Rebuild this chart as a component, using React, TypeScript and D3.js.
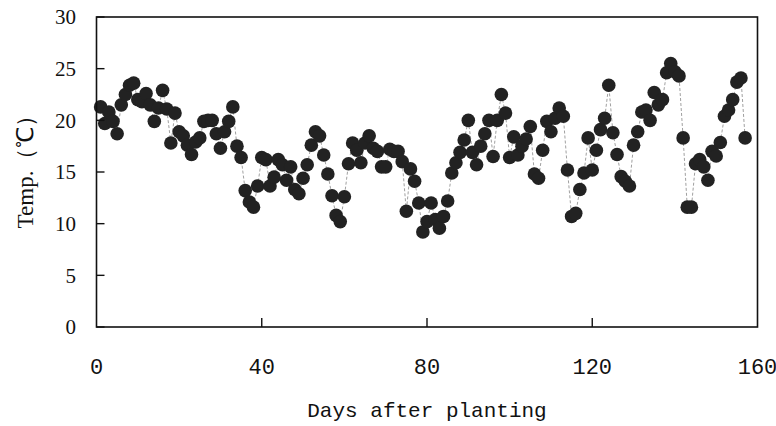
import React from "react";
import * as d3 from "d3";

const temps: number[] = [
  21.3, 19.7, 20.8, 19.9, 18.7, 21.5, 22.5, 23.4, 23.6, 22.0,
  21.8, 22.6, 21.5, 19.9, 21.2, 22.9, 21.1, 17.8, 20.7, 18.9,
  18.5, 17.6, 16.7, 17.9, 18.3, 19.9, 20.0, 20.0, 18.7, 17.3,
  18.9, 19.9, 21.3, 17.5, 16.4, 13.2, 12.1, 11.6, 13.65, 16.4,
  16.2, 13.65, 14.5, 16.2, 15.7, 14.2, 15.5, 13.3, 12.9, 14.4,
  15.7, 17.6, 18.9, 18.5, 16.65, 14.8, 12.7, 10.8, 10.2, 12.6,
  15.8, 17.8, 17.1, 15.9, 17.8, 18.5, 17.3, 17.0, 15.5, 15.5,
  17.2, 17.0, 17.0, 16.0, 11.2, 15.3, 14.1, 12.0, 9.2, 10.2,
  12.0, 10.4, 9.55, 10.7, 12.2, 14.9, 15.9, 16.9, 18.1, 20.0,
  16.9, 15.7, 17.5, 18.7, 20.0, 16.5, 20.0, 22.5, 20.7, 16.4,
  18.4, 16.65, 17.5, 18.2, 19.4, 14.8, 14.4, 17.1, 19.9, 18.9,
  20.2, 21.2, 20.4, 15.2, 10.7, 11.0, 13.3, 14.9, 18.3, 15.2,
  17.1, 19.1, 20.2, 23.4, 18.8, 16.7, 14.55, 14.1, 13.65, 17.6,
  18.9, 20.8, 21.0, 20.0, 22.7, 21.5, 22.0, 24.6, 25.5, 24.7,
  24.3, 18.3, 11.6, 11.6, 15.8, 16.2, 15.5, 14.2, 17.0, 16.55,
  17.85, 20.4, 21.0, 22.0, 23.7, 24.1, 18.3,
];
const days: number[] = temps.map((_, i) => i + 1);
const xTicks: number[] = [0, 40, 80, 120, 160];
const yTicks: number[] = [0, 5, 10, 15, 20, 25, 30];

const W = 776;
const H = 426;
const left = 96.5;
const right = 757.5;
const top = 17;
const bottom = 327;

export default function App() {
  const x = d3.scaleLinear().domain([0, 160]).range([left, right]);
  const y = d3.scaleLinear().domain([0, 30]).range([bottom, top]);
  const data = days.map((d, i) => ({ d, t: temps[i] }));
  const line = d3
    .line<{ d: number; t: number }>()
    .x((p) => x(p.d))
    .y((p) => y(p.t));
  const serif = "'Liberation Serif', 'Times New Roman', serif";
  const mono = "'Liberation Mono', 'DejaVu Sans Mono', monospace";
  return (
    <svg
      width={W}
      height={H}
      style={{ position: "absolute", left: 0, top: 0, background: "#fff" }}
    >
      <rect x={0} y={0} width={W} height={H} fill="#fff" />
      <path
        d={line(data) || ""}
        fill="none"
        stroke="#888"
        strokeWidth={0.8}
        strokeDasharray="3,2"
      />
      {data.map((p, i) => (
        <circle key={i} cx={x(p.d)} cy={y(p.t)} r={6.8} fill="#222" />
      ))}
      <rect
        x={left}
        y={top}
        width={right - left}
        height={bottom - top}
        fill="none"
        stroke="#111"
        strokeWidth={1.6}
      />
      {yTicks.map((t) => (
        <g key={"y" + t}>
          <line x1={left} x2={left + 8} y1={y(t)} y2={y(t)} stroke="#111" strokeWidth={1.4} />
          <text
            x={76}
            y={y(t)}
            dy="0.35em"
            textAnchor="end"
            fontFamily={serif}
            fontSize={21}
            fill="#111"
          >
            {t}
          </text>
        </g>
      ))}
      {xTicks.map((t) => (
        <g key={"x" + t}>
          {t > 0 && t < 160 && (
            <line x1={x(t)} x2={x(t)} y1={bottom} y2={bottom - 9} stroke="#111" strokeWidth={1.4} />
          )}
          <text
            x={x(t)}
            y={366}
            dy="0.35em"
            textAnchor="middle"
            fontFamily={mono}
            fontSize={22}
            fill="#111"
          >
            {t}
          </text>
        </g>
      ))}
      <text
        x={(left + right) / 2}
        y={410}
        dy="0.35em"
        textAnchor="middle"
        fontFamily={mono}
        fontSize={21}
        fill="#111"
      >
        Days after planting
      </text>
      <text
        transform={`translate(25, 166) rotate(-90)`}
        textAnchor="middle"
        dy="0.35em"
        fontFamily={serif}
        fontSize={23}
        fill="#111"
      >
        Temp.（℃）
      </text>
    </svg>
  );
}
